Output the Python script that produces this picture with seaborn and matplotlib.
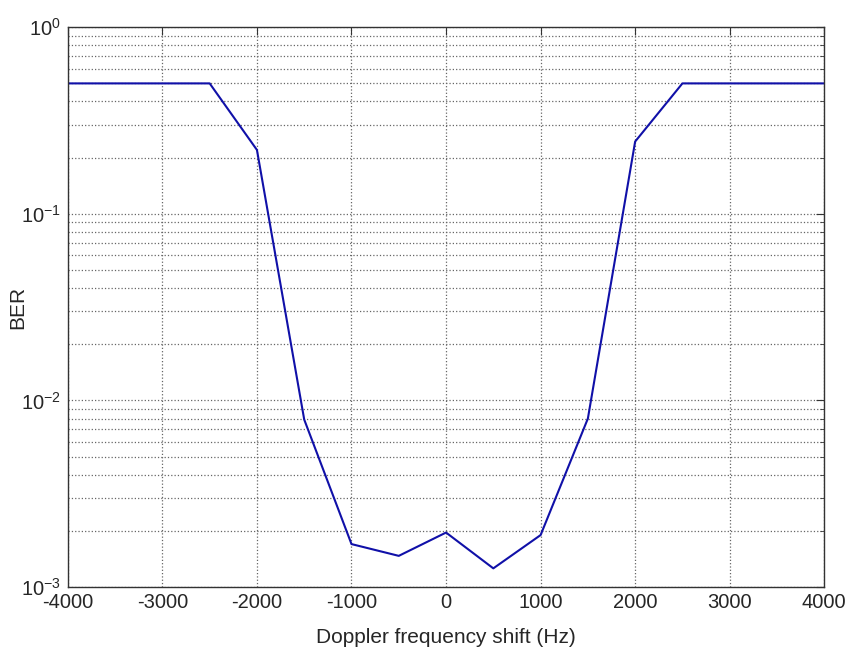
import numpy as np
import pandas as pd
import matplotlib
matplotlib.use("Agg")
import matplotlib.pyplot as plt
import seaborn as sns

# Data
doppler_hz = [-4000, -3500, -3000, -2500, -2000, -1500, -1000, -500, 0,
              500, 1000, 1500, 2000, 2500, 3000, 3500, 4000]
ber = [0.5, 0.5, 0.5, 0.5, 0.22, 0.0079, 0.0017, 0.00147, 0.00196,
       0.00126, 0.0019, 0.0080, 0.244, 0.5, 0.5, 0.5, 0.5]

df = pd.DataFrame({"Doppler": doppler_hz, "BER": ber})

sns.set_style("white")
plt.rcParams["font.family"] = ["Liberation Sans", "DejaVu Sans"]
plt.rcParams["axes.unicode_minus"] = False
plt.rcParams["mathtext.fontset"] = "custom"
plt.rcParams["mathtext.rm"] = "Liberation Sans"

fig = plt.figure(figsize=(8.48, 6.48), dpi=100)
ax = fig.add_axes([0.080, 0.094, 0.892, 0.864])

sns.lineplot(data=df, x="Doppler", y="BER", ax=ax, color="#1010a8", linewidth=1.5)

ax.set_yscale("log")
ax.set_xlim(-4000, 4000)
ax.set_ylim(1e-3, 1)
ax.set_xticks(np.arange(-4000, 4001, 1000))

ax.grid(True, which="major", axis="both", linestyle=":", color="#666666", linewidth=0.9)
ax.grid(True, which="minor", axis="y", linestyle=":", color="#666666", linewidth=0.9)

ax.tick_params(which="both", direction="in", top=True, right=True,
               labelsize=14.5, color="#333333")
ax.tick_params(which="major", length=6)
ax.tick_params(which="minor", length=3)
ax.tick_params(axis="x", pad=4)
ax.tick_params(axis="y", pad=5)
for s in ax.spines.values():
    s.set_color("#333333")
    s.set_linewidth(1.0)

ax.set_xlabel("Doppler frequency shift (Hz)", fontsize=15)
ax.set_ylabel("BER", fontsize=15)
ax.xaxis.set_label_coords(0.5, -0.073)
ax.yaxis.set_label_coords(-0.054, 0.5)

fig.savefig("out.png", dpi=100)
